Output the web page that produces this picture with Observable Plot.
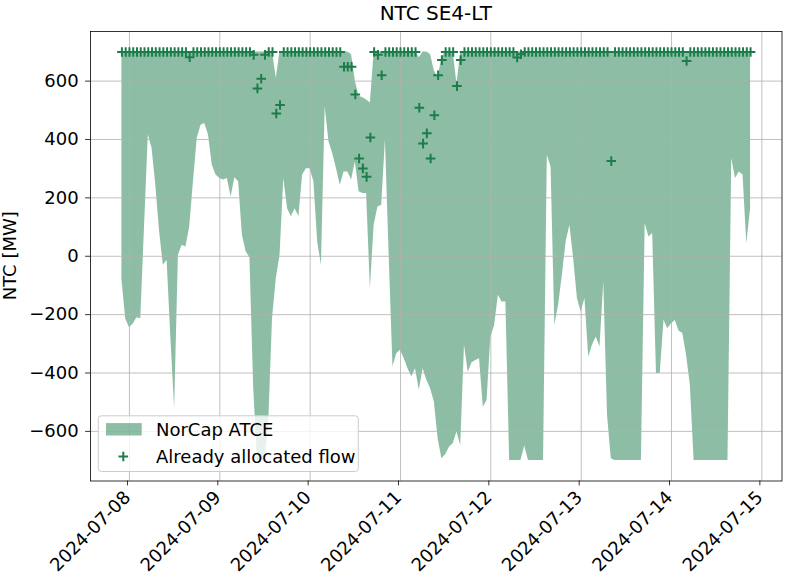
<!DOCTYPE html>
<html><head><meta charset="utf-8">
<script src="https://cdn.jsdelivr.net/npm/d3@7"></script>
<script src="https://cdn.jsdelivr.net/npm/@observablehq/plot@0.6"></script>
<style>
body{margin:0;background:#fff}
#chart{width:785px;height:578px}
</style>
</head><body><div id="chart"></div>
<script>
// Hourly series starting at this time (UTC)
const startTime = "2024-07-07T22:00:00Z";

// NorCap ATCE lower bound (MW), one row per day of 24 hours
const lower = [
  -80,-214,-245,-232,-211,-214,100,415,370,243,85,-31,-14,-280,-522,3,38,32,100,255,403,449,455,415,
  312,278,266,261,266,203,269,255,72,15,-5,-450,-700,-700,-700,-570,-214,-77,3,266,163,135,163,135,
  278,300,300,255,49,-31,512,392,352,300,243,289,289,261,323,221,215,215,-111,106,169,175,398,0,
  -379,-334,-322,-351,-385,-414,-385,-459,-385,-425,-454,-499,-625,-694,-680,-654,-642,-602,-648,-305,-397,-365,-357,-351,
  -517,-494,-277,-237,-134,-157,-157,-700,-700,-700,-700,-650,-700,-700,-700,-700,-700,346,306,-237,-168,-65,49,106,
  -8,-145,-191,-145,-345,-305,-277,-311,-88,-545,-694,-700,-700,-700,-700,-700,-700,-700,-700,112,66,78,-402,-402,
  -219,-248,-231,-220,-256,-265,-339,-442,-700,-700,-700,-700,-700,-700,-700,-700,-700,-700,335,266,289,278,43,163
];

// NorCap ATCE upper bound (MW)
const upper = [
  700,700,700,700,700,700,700,700,700,700,700,700,700,700,700,700,700,700,700,700,700,700,700,700,
  700,700,700,700,700,700,700,700,700,700,700,700,700,700,700,700,700,610,700,700,700,700,700,700,
  700,700,700,700,700,700,700,700,700,700,700,700,700,690,600,548,543,535,525,700,700,700,700,700,
  700,700,700,700,700,700,700,680,700,700,690,635,612,680,700,700,700,590,700,700,700,700,700,700,
  700,700,700,700,700,700,700,700,700,700,700,700,700,700,700,700,700,700,700,700,700,700,700,700,
  700,700,700,700,700,700,700,700,700,700,700,700,700,700,700,700,700,700,700,700,700,700,700,700,
  700,700,700,700,700,700,700,700,700,700,700,700,700,700,700,700,700,700,700,700,700,700,700,700
];

// Already allocated flow (MW)
const allocated = [
  700,700,700,700,700,700,700,700,700,700,700,700,700,700,700,700,700,700,682,700,700,700,700,700,
  700,700,700,700,700,700,700,700,700,700,700,690,575,608,690,700,700,489,518,700,700,700,700,700,
  700,700,700,700,700,700,700,700,700,700,700,649,649,649,554,335,301,272,407,700,690,620,700,700,
  700,700,700,700,700,700,700,509,386,421,335,483,620,672,700,700,700,583,672,700,700,700,700,700,
  700,700,700,700,700,700,700,700,700,681,692,700,700,700,700,700,700,700,700,700,700,700,700,700,
  700,700,700,700,700,700,700,700,700,700,326,700,700,700,700,700,700,700,700,700,700,700,700,700,
  700,700,700,700,700,700,669,700,700,700,700,700,700,700,700,700,700,700,700,700,700,700,700,700
];

const yTicks = [-600,-400,-200,0,200,400,600];
const seriesColor = "#1c7d4b";
const FONT = "'DejaVu Sans', sans-serif";
const FS = 18;

const W = 785, H = 578;
const mL = 90, mR = 3.5, mT = 31, mB = 97.5;

const t0 = new Date(startTime);
const data = lower.map((lo, i) => ({
  time: new Date(+t0 + i * 3600e3),
  lower: lo, upper: upper[i], alloc: allocated[i]
}));
const tFirst = data[0].time, tLast = data[data.length - 1].time;
const xPad = (tLast - tFirst) * 0.05;
const xDomain = [new Date(+tFirst - xPad), new Date(+tLast + xPad)];
const yMin = Math.min(d3.min(lower), d3.min(allocated));
const yMax = Math.max(d3.max(upper), d3.max(allocated));
const yPad = (yMax - yMin) * 0.05;
const yDomain = [yMin - yPad, yMax + yPad];
const xTicks = d3.utcDay.range(d3.utcDay.ceil(xDomain[0]), xDomain[1]);

const plusSymbol = {
  draw(ctx, size) {
    const r = Math.sqrt(size / Math.PI);
    ctx.moveTo(-r, 0); ctx.lineTo(r, 0);
    ctx.moveTo(0, -r); ctx.lineTo(0, r);
  }
};

const plot = Plot.plot({
  width: W, height: H,
  marginLeft: mL, marginRight: mR, marginTop: mT, marginBottom: mB,
  style: {fontFamily: FONT, fontSize: FS + "px", color: "#000", background: "#fff"},
  x: {type: "utc", domain: xDomain},
  y: {domain: yDomain},
  marks: [
    Plot.areaY(data, {x: "time", y1: "lower", y2: "upper", fill: seriesColor, fillOpacity: 0.5}),
    Plot.gridX(xTicks, {stroke: "#b0b0b0", strokeOpacity: 1, strokeWidth: 0.8}),
    Plot.gridY(yTicks, {stroke: "#b0b0b0", strokeOpacity: 1, strokeWidth: 0.8}),
    Plot.dot(data, {x: "time", y: "alloc", symbol: plusSymbol, r: 4.8, stroke: seriesColor, strokeWidth: 2, fill: "none"}),
    Plot.frame({stroke: "#000", strokeWidth: 0.8}),
    Plot.axisX(xTicks, {tickFormat: d3.utcFormat("%Y-%m-%d"), tickRotate: -45, tickSize: 4.9, tickPadding: 8.5, dx: -2, fontSize: FS, label: null, strokeWidth: 0.8}),
    Plot.axisY(yTicks, {tickFormat: d3.format("d"), tickSize: 4.9, tickPadding: 7, fontSize: FS, label: null, strokeWidth: 0.8})
  ]
});
document.getElementById("chart").appendChild(plot);

const svg = d3.select(plot);
const fx0 = mL, fx1 = W - mR, fy0 = mT, fy1 = H - mB;

// Title
svg.append("text")
  .attr("x", (fx0 + fx1) / 2).attr("y", 20)
  .attr("text-anchor", "middle")
  .style("font-family", FONT).style("font-size", "20px").attr("fill", "#000")
  .text("NTC SE4-LT");

// Y label
svg.append("text")
  .attr("transform", `translate(15.5,${(fy0 + fy1) / 2}) rotate(-90)`)
  .attr("text-anchor", "middle")
  .style("font-family", FONT).style("font-size", FS + "px").attr("fill", "#000")
  .text("NTC [MW]");

// Legend
const lg = svg.append("g").attr("transform", `translate(${fx0 + 8.3},${fy1 - 64.7})`)
  .attr("text-anchor", "start")
  .style("font-family", FONT).style("font-size", FS + "px");
lg.append("rect").attr("x", 0).attr("y", 0).attr("width", 260).attr("height", 55.7).attr("rx", 3)
  .attr("fill", "#fff").attr("fill-opacity", 0.8).attr("stroke", "#cccccc").attr("stroke-width", 1);
lg.append("rect").attr("x", 7.7).attr("y", 7.3).attr("width", 35.7).attr("height", 12.4)
  .attr("fill", seriesColor).attr("fill-opacity", 0.5);
lg.append("text").attr("x", 57.7).attr("y", 20).attr("text-anchor", "start").attr("fill", "#000").text("NorCap ATCE");
lg.append("path").attr("d", "M20.2,40.7h9.6M25,35.9v9.6").attr("stroke", seriesColor).attr("stroke-width", 2).attr("fill", "none");
lg.append("text").attr("x", 57.7).attr("y", 47.2).attr("text-anchor", "start").attr("fill", "#000").text("Already allocated flow");
</script>
</body></html>
